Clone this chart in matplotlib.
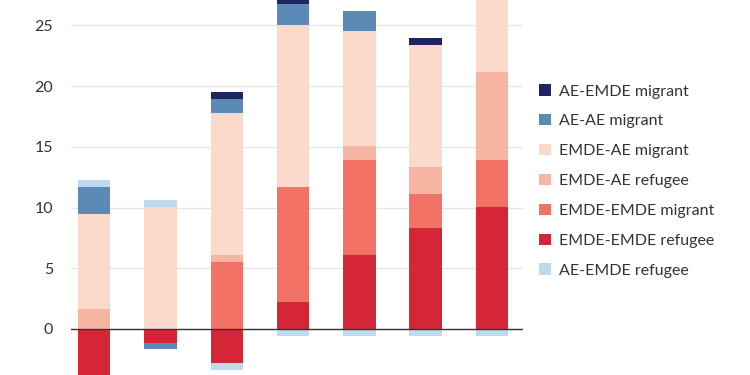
import numpy as np
import matplotlib
matplotlib.use("Agg")
import matplotlib.pyplot as plt
from matplotlib.patches import Patch

plt.rcParams['font.family'] = ['Lato', 'DejaVu Sans']

# seven bars (x labels are cropped out of the reference)
positions = np.arange(7)

# series values (percent)
series_names = [
    "EMDE-EMDE refugee", "EMDE-EMDE migrant", "EMDE-AE refugee",
    "EMDE-AE migrant", "AE-AE migrant", "AE-EMDE refugee", "AE-EMDE migrant",
]
emde_emde_refugee = [-4.5, -1.13, -2.78, 2.2, 6.1, 8.33, 10.04]
emde_emde_migrant = [0, 0, 5.53, 9.49, 7.8, 2.81, 3.86]
emde_ae_refugee = [1.65, 0, 0.57, 0, 1.14, 2.23, 7.3]
emde_ae_migrant = [7.81, 10.04, 11.7, 13.39, 9.49, 10.03, 7.3]
ae_ae_migrant = [2.23, -0.55, 1.15, 1.68, 1.67, 0, 0]
ae_emde_refugee = [0.58, 0.56, -0.62, -0.55, -0.55, -0.55, -0.55]
ae_emde_migrant = [0, 0, 0.55, 0.6, 0, 0.57, 0]

series_values = [emde_emde_refugee, emde_emde_migrant, emde_ae_refugee,
                 emde_ae_migrant, ae_ae_migrant, ae_emde_refugee, ae_emde_migrant]
colors = {
    "AE-EMDE migrant": "#1d2660",
    "AE-AE migrant": "#5b8ab6",
    "EMDE-AE migrant": "#fbdacc",
    "EMDE-AE refugee": "#f7b5a3",
    "EMDE-EMDE migrant": "#f27365",
    "EMDE-EMDE refugee": "#d52638",
    "AE-EMDE refugee": "#bfdaef",
}
legend_order = ["AE-EMDE migrant", "AE-AE migrant", "EMDE-AE migrant", "EMDE-AE refugee",
                "EMDE-EMDE migrant", "EMDE-EMDE refugee", "AE-EMDE refugee"]

fig = plt.figure(figsize=(7.5, 3.75), dpi=100)
ax = fig.add_axes([71 / 750, 0, (523 - 71) / 750, 1])

pos_bottom = np.zeros(7)
neg_bottom = np.zeros(7)
for name, vals in zip(series_names, series_values):
    vals = np.array(vals, dtype=float)
    bottom = np.where(vals >= 0, pos_bottom, neg_bottom)
    ax.bar(positions, vals, bottom=bottom, width=0.49, color=colors[name],
           linewidth=0, zorder=2)
    pos_bottom += np.where(vals > 0, vals, 0)
    neg_bottom += np.where(vals < 0, vals, 0)

ax.set_xlim(-0.35, 6.47)
ax.set_ylim(-3.8, 27.1)
ax.set_yticks([0, 5, 10, 15, 20, 25])
ax.set_xticks([])
ax.yaxis.grid(True, color="#e6e6e6", linewidth=1, zorder=0)
ax.axhline(0, color="#333333", linewidth=1, zorder=3)
for s in ax.spines.values():
    s.set_visible(False)
ax.tick_params(axis="y", length=0, pad=13, labelsize=11.5, labelcolor="#333333")

handles = [Patch(facecolor=colors[n], edgecolor="none") for n in legend_order]
fig.legend(handles, legend_order, loc="upper left", bbox_to_anchor=(525 / 750, 1 - 70 / 375),
           frameon=False, fontsize=11.5, handlelength=0.7, handleheight=0.7,
           handletextpad=0.5, labelspacing=0.98, labelcolor="#333333")

fig.savefig("out.png", dpi=100)
